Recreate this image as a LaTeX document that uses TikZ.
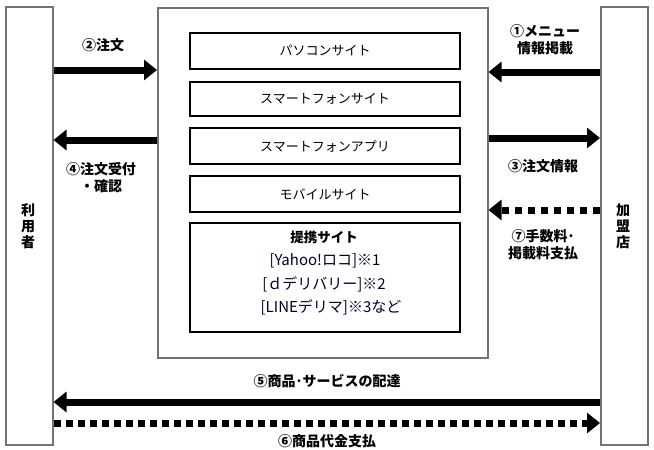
\documentclass[tikz,border=0pt]{standalone}
\usepackage{fontspec}
\setmainfont{Noto Sans CJK JP}
\usetikzlibrary{arrows.meta}
\begin{document}
\begin{tikzpicture}[x=1pt,y=-1pt,
  outerbox/.style={draw=black!55,line width=1.5pt,fill=white},
  innerbox/.style={draw=black,line width=1.4pt,fill=white},
  boxtext/.style={font=\fontsize{13}{15}\selectfont},
  subtext/.style={font=\fontsize{15}{17}\selectfont,text=black!85!blue},
  lbl/.style={font=\bfseries\fontsize{14}{17}\selectfont,align=center},
  bigarrow/.style={line width=7pt,-{Triangle[length=13pt,width=20pt]}},
  dotarrow/.style={line width=7pt,dash pattern=on 7pt off 6pt,-{Triangle[length=13pt,width=20pt]}}]
\useasboundingbox (0,0) rectangle (654,450);
% main boxes
\node[outerbox,minimum width=47pt,minimum height=438pt,anchor=north west,inner sep=0pt] (L) at (5,6) {};
\node[outerbox,minimum width=47pt,minimum height=438pt,anchor=north west,inner sep=0pt] (R) at (600,6) {};
\node[outerbox,minimum width=330pt,minimum height=350pt,anchor=north west,inner sep=0pt] (C) at (157,7) {};
\node[lbl,font=\bfseries\fontsize{14}{16}\selectfont] (Lt) at (28,226) {利\\用\\者};
\node[lbl,font=\bfseries\fontsize{14}{16}\selectfont] (Rt) at (623,226) {加\\盟\\店};
% inner boxes
\node[innerbox,boxtext,minimum width=270pt,minimum height=36pt,inner sep=0pt] (s1) at (325,51) {パソコンサイト};
\node[innerbox,boxtext,minimum width=270pt,minimum height=34pt,inner sep=0pt] (s2) at (325,99) {スマートフォンサイト};
\node[innerbox,boxtext,minimum width=270pt,minimum height=36pt,inner sep=0pt] (s3) at (325,146) {スマートフォンアプリ};
\node[innerbox,boxtext,minimum width=270pt,minimum height=36pt,inner sep=0pt] (s4) at (325,194) {モバイルサイト};
\node[innerbox,minimum width=270pt,minimum height=109pt,inner sep=0pt] (s5) at (325,277.5) {};
\node[font=\bfseries\fontsize{13.5}{15}\selectfont] (t1) at (324,237) {提携サイト};
\node[subtext] (t2) at (325,261) {[Yahoo!ロコ]※1};
\node[subtext] (t3) at (324,284) {[ｄデリバリー]※2};
\node[subtext] (t4) at (331,307) {[LINEデリマ]※3など};
% arrows left
\draw[bigarrow] (L.east |- 0,70) -- (C.west |- 0,70);
\draw[bigarrow] (C.west |- 0,140) -- (L.east |- 0,140);
\node[lbl] (l2) at (103,45) {②注文};
\node[lbl] (l4) at (101,178) {④注文受付\\・確認};
% arrows right
\draw[bigarrow] (R.west |- 0,72) -- (C.east |- 0,72);
\draw[bigarrow] (C.east |- 0,138) -- (R.west |- 0,138);
\draw[dotarrow] (R.west |- 0,210) -- (C.east |- 0,210);
\node[lbl] (l1) at (545,40) {①メニュー\\情報掲載};
\node[lbl] (l3) at (543,166) {③注文情報};
\node[lbl] (l7) at (543,245) {⑦手数料･\\掲載料支払};
% bottom arrows
\draw[bigarrow] (R.west |- 0,402) -- (L.east |- 0,402);
\draw[dotarrow,dash pattern=on 7pt off 5pt] (L.east |- 0,423) -- (R.west |- 0,423);
\node[lbl] (l5) at (327,381) {⑤商品･サービスの配達};
\node[lbl] (l6) at (327,441) {⑥商品代金支払};
\end{tikzpicture}
\end{document}
